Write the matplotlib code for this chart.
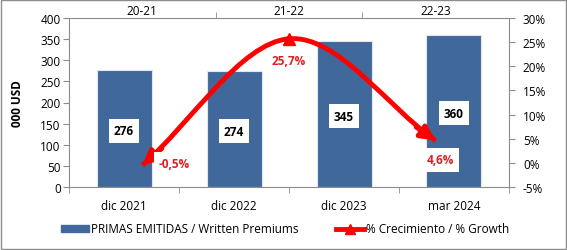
import matplotlib
matplotlib.use("Agg")
import matplotlib.pyplot as plt
import numpy as np
from matplotlib.path import Path
from matplotlib.patches import PathPatch, Rectangle, Patch
from matplotlib.lines import Line2D

# data
periods = ["dic 2021", "dic 2022", "dic 2023", "mar 2024"]
premiums = [276, 274, 345, 360]
years = ["20-21", "21-22", "22-23"]
growth = [-0.5, 25.7, 4.6]
growth_labels = ["-0,5%", "25,7%", "4,6%"]
usd_ticks = [0, 50, 100, 150, 200, 250, 300, 350, 400]
pct_ticks = [-5, 0, 5, 10, 15, 20, 25, 30]

BLUE = "#41689b"
RED = "#ff0000"
GRAY = "#8c8c8c"

plt.rcParams["font.family"] = ["Open Sans", "DejaVu Sans"]
plt.rcParams["font.size"] = 8.5

fig = plt.figure(figsize=(5.67, 2.51), dpi=100)
rect = [69 / 567, 1 - 188 / 251, 440 / 567, 169 / 251]

# bars on primary axes
ax = fig.add_axes(rect)
x = np.arange(len(periods))
ax.bar(x, premiums, width=0.5, color=BLUE, edgecolor="#dfe6ef", linewidth=0.8, zorder=2)
ax.set_xlim(-0.5, len(periods) - 0.5)
ax.set_ylim(0, 400)
ax.set_yticks(usd_ticks)
ax.set_xticks(x)
ax.set_xticklabels(periods)
ax.set_xticks(np.arange(-0.5, len(periods)), minor=True)
ax.tick_params(axis="x", which="major", length=0, pad=9)
ax.tick_params(axis="x", which="minor", length=4, color=GRAY)
ax.tick_params(axis="y", length=4, color=GRAY, pad=2)
ax.set_ylabel("000 USD", fontweight="bold", labelpad=12)
for s in ax.spines.values():
    s.set_color(GRAY)
for xi, v in zip(x, premiums):
    ax.text(xi, v / 2 - 5, str(v), ha="center", va="center", fontweight="bold",
            bbox=dict(boxstyle="square,pad=0.45", fc="white", ec="none"), zorder=4)

# growth line on secondary axes (top x, right y)
ax2 = fig.add_axes(rect, frameon=False)
ax2.set_xlim(-0.5, len(years) - 0.5)
ax2.set_ylim(-5, 30)
ax2.xaxis.tick_top()
ax2.yaxis.tick_right()
ax2.set_xticks(np.arange(len(years)))
ax2.set_xticklabels(years)
ax2.set_xticks(np.arange(0.5, len(years) - 1), minor=True)
ax2.tick_params(axis="x", which="major", length=0, pad=1)
ax2.tick_params(axis="x", which="minor", length=4, color=GRAY)
ax2.set_yticks(pct_ticks)
ax2.set_yticklabels([f"{t}%" for t in pct_ticks])
ax2.tick_params(axis="y", length=4, color=GRAY, pad=6)
ax2.spines["right"].set_visible(True)
ax2.spines["top"].set_visible(True)
ax2.spines["right"].set_color(GRAY)
ax2.spines["top"].set_color(GRAY)

# smoothed line (cubic bezier); end points reflected so the ends stay straighter
pts = np.column_stack([np.arange(len(growth)), growth]).astype(float)
ext = np.vstack([2 * pts[0] - pts[1], pts, 2 * pts[-1] - pts[-2]])
verts = [pts[0]]
codes = [Path.MOVETO]
for i in range(1, len(ext) - 2):
    p_prev, p0, p1, p_next = ext[i - 1], ext[i], ext[i + 1], ext[i + 2]
    c1 = p0 + (p1 - p_prev) / 6
    c2 = p1 - (p_next - p0) / 6
    verts += [c1, c2, p1]
    codes += [Path.CURVE4] * 3
ax2.add_patch(PathPatch(Path(verts, codes), fc="none", ec=RED, lw=3.5,
                        capstyle="butt", zorder=3))

# arrow heads at the ends, triangle at the middle
start_dir = pts[0] - verts[1]
end_dir = pts[-1] - verts[-2]
head = "-|>,head_length=1.0,head_width=0.5"
ax2.annotate("", xy=pts[0], xytext=pts[0] - start_dir * 0.4,
             arrowprops=dict(arrowstyle=head, color=RED, lw=3.5, shrinkA=0, shrinkB=0),
             zorder=3)
ax2.annotate("", xy=pts[-1], xytext=pts[-1] - end_dir * 0.4,
             arrowprops=dict(arrowstyle=head, color=RED, lw=3.5, shrinkA=0, shrinkB=0),
             zorder=3)
ax2.plot(pts[1:2, 0], pts[1:2, 1], marker="^", ms=9, color=RED, ls="none", zorder=3)

offsets = [(0.22, 0.4), (0.0, -4.5), (0.03, -4.0)]
for (px, py), lab, (dx, dy) in zip(pts, growth_labels, offsets):
    ax2.text(px + dx, py + dy, lab, ha="center", va="center", color="#e02020",
             fontweight="bold",
             bbox=dict(boxstyle="square,pad=0.45", fc="white", ec="none"), zorder=4)

# legend
handles = [Patch(color=BLUE),
           Line2D([0], [0], color=RED, lw=3.5, marker="^", ms=7)]
fig.legend(handles, ["PRIMAS EMITIDAS / Written Premiums", "% Crecimiento / % Growth"],
           loc="center left", bbox_to_anchor=(50 / 567, 1 - 230 / 251), ncol=2,
           frameon=False, handlelength=2.4, handleheight=0.6, handletextpad=0.15,
           columnspacing=3.2, fontsize=8.5)

fig.add_artist(Rectangle((0.001, 0.002), 0.997, 0.995, transform=fig.transFigure,
                         fill=False, ec=GRAY, lw=1))

fig.savefig("out.png", dpi=100)
